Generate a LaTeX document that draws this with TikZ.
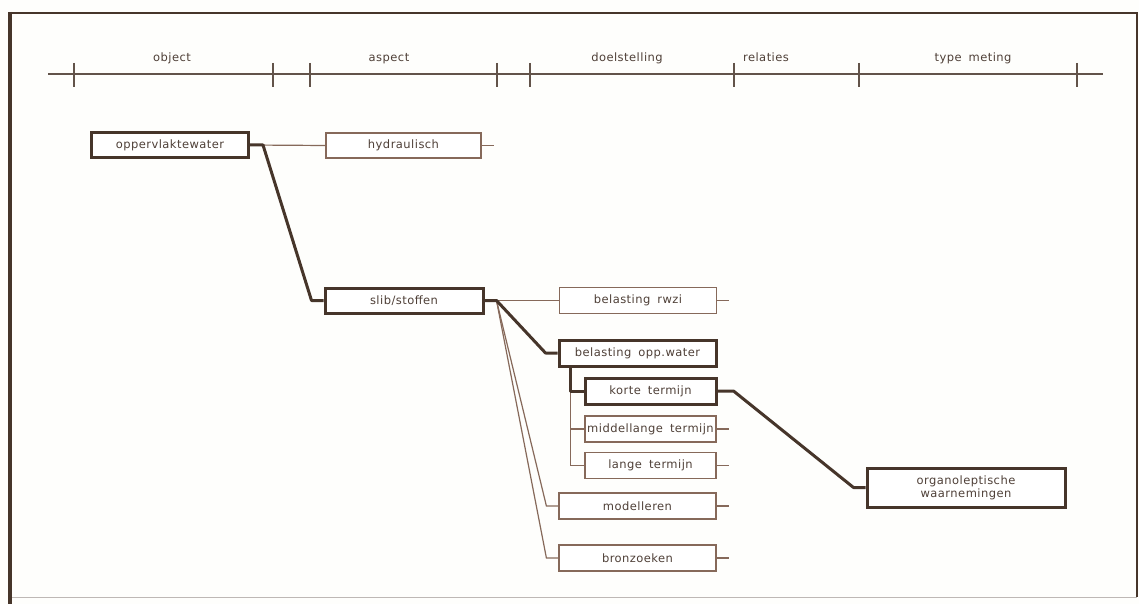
\documentclass[tikz,border=0pt]{standalone}
\usepackage{fontspec}
\newfontfamily\plotter{DejaVu Sans}[LetterSpace=4]
\usetikzlibrary{calc}
\definecolor{paper}{HTML}{FEFEFC}
\definecolor{ink}{HTML}{46352A}
\definecolor{thinink}{HTML}{86695A}
\definecolor{textink}{HTML}{4F4038}
\newcommand{\gap}{\hspace{7pt}}
\tikzset{
  box/.style={draw=thinink, line width=1.2pt, inner sep=0pt, fill=white,
    font=\plotter\fontsize{11.5}{13}\selectfont, text=textink},
  heavy/.style={box, draw=ink, line width=3pt},
  wide/.style={minimum width=157pt, minimum height=26pt},
  narrow/.style={minimum width=131pt, minimum height=26pt},
  head/.style={font=\plotter\fontsize{11.5}{13}\selectfont, text=textink, anchor=base, inner sep=0pt},
  thinline/.style={draw=thinink, line width=1.2pt},
  thickline/.style={draw=ink, line width=3pt, line join=round},
  axisline/.style={draw=ink!85, line width=1.1pt}
}
\begin{document}
\begin{tikzpicture}[x=1pt,y=-1pt]
  % page
  \fill[paper] (0,0) rectangle (1139,604);
  \useasboundingbox (0,0) rectangle (1139,604);

  % frame
  \draw[ink, line width=1.4pt] (10,13) -- (1137,13) -- (1137,597);
  \draw[ink!35, line width=1pt] (10,597) -- (1137,597);
  \draw[ink, line width=4pt] (10,12) -- (10,604);

  % column axis with ticks
  \draw[axisline] (48,74) -- (1103,74);
  \foreach \t in {74,273,310,497,530,734,859,1077}
    \draw[axisline] (\t,63) -- (\t,87);

  % column headings
  \node[head] (hobj) at (172,62) {object};
  \node[head] (hasp) at (389,62) {aspect};
  \node[head] (hdoel) at (627,62) {doelstelling};
  \node[head] (hrel) at (766,62) {relaties};
  \node[head] (htype) at (973,62) {type\gap meting};

  % tree nodes
  \node[heavy, minimum width=157pt, minimum height=25pt] (opw) at (170,145) {oppervlaktewater};
  \node[box, minimum width=155pt, minimum height=25pt] (hyd) at (403.5,145.5) {hydraulisch};
  \node[heavy, minimum width=158pt, minimum height=25pt] (slib) at (404,300.5) {slib/stoffen};
  \node[box, wide] (rwzi) at (638,300.5) {belasting\gap rwzi};
  \node[heavy, wide] (bow) at (637.5,353) {belasting\gap opp.water};
  \node[heavy, narrow] (korte) at (650.5,391) {korte\gap termijn};
  \node[box, narrow] (midl) at (650.5,429) {middellange\gap termijn};
  \node[box, narrow] (lange) at (650.5,465.5) {lange\gap termijn};
  \node[box, wide] (model) at (637.5,506) {modelleren};
  \node[box, wide] (bron) at (637.5,558) {bronzoeken};
  \node[heavy, minimum width=198pt, minimum height=39pt, align=center] (orga) at (966,487.5)
    {organoleptische\\waarnemingen};

  % junctions
  \coordinate (jopw) at ($(opw.east)+(13,0)$);
  \coordinate (jslib) at ($(slib.east)+(12,0)$);
  \coordinate (jbow) at ($(bow.south west)+(13,0)$);
  \coordinate (jkorte) at ($(korte.east)+(16,0)$);

  % connectors: thin branches
  \draw[thinline] (opw.east) -- (hyd.west);
  \draw[thinline] (jslib) -- (rwzi.west);
  \draw[thinline] (jslib) -- ($(model.west)+(-12,0)$) -- (model.west);
  \draw[thinline] (jslib) -- ($(bron.west)+(-12,0)$) -- (bron.west);
  \draw[thinline] (jbow |- korte.west) -- (jbow |- lange.west) -- (lange.west);
  \draw[thinline] (jbow |- midl.west) -- (midl.west);

  % connectors: the highlighted path
  \draw[thickline] (opw.east) -- (jopw) -- ($(slib.west)+(-12,0)$) -- (slib.west);
  \draw[thickline] (slib.east) -- (jslib) -- ($(bow.west)+(-12,0)$) -- (bow.west);
  \draw[thickline] (jbow) -- (jbow |- korte.west) -- (korte.west);
  \draw[thickline] (korte.east) -- (jkorte) -- ($(orga.west)+(-12,0)$) -- (orga.west);

  % open stubs
  \foreach \n in {hyd,rwzi,midl,lange,model,bron}
    \draw[thinline] (\n.east) -- ++(12,0);
\end{tikzpicture}
\end{document}
